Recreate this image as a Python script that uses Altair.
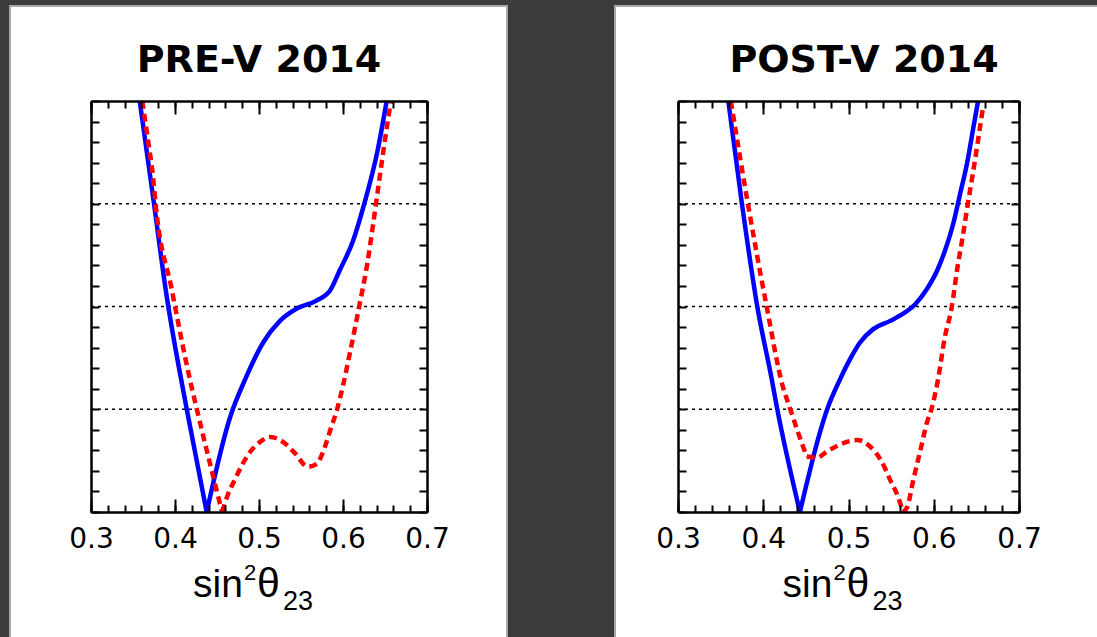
import altair as alt
import pandas as pd

# Delta chi^2 profiles versus sin^2(theta_23); blue = solid curve, red = dashed curve
pre_blue_x = [0.358, 0.375, 0.389, 0.414, 0.4377, 0.4655, 0.484, 0.505, 0.525, 0.545,
              0.569, 0.585, 0.596, 0.612, 0.626, 0.641, 0.652]
pre_blue_y = [4.0, 3.0, 2.16, 1.0, 0.0, 0.92, 1.30, 1.65, 1.86, 1.98,
              2.06, 2.16, 2.35, 2.64, 3.02, 3.51, 4.0]

pre_red_x = [0.361, 0.368, 0.374, 0.377, 0.396, 0.418, 0.426, 0.456, 0.463, 0.471,
             0.480, 0.489, 0.501, 0.513, 0.529, 0.543, 0.558, 0.569, 0.576, 0.585,
             0.593, 0.600, 0.608, 0.620, 0.629, 0.636, 0.642, 0.648, 0.657]
pre_red_y = [4.0, 3.61, 3.25, 2.99, 2.17, 1.28, 1.0, 0.0, 0.17, 0.31,
             0.46, 0.58, 0.68, 0.73, 0.68, 0.57, 0.44, 0.47, 0.58, 0.80,
             1.0, 1.23, 1.54, 2.03, 2.42, 2.81, 3.16, 3.51, 4.0]

post_blue_x = [0.359, 0.375, 0.393, 0.410, 0.416, 0.443, 0.449, 0.457, 0.466, 0.475,
               0.490, 0.502, 0.5135, 0.529, 0.549, 0.564, 0.578, 0.592, 0.604, 0.613,
               0.623, 0.631, 0.639, 0.646, 0.652]
post_blue_y = [4.0, 3.0, 2.0, 1.29, 1.02, 0.0, 0.21, 0.48, 0.76, 1.0,
               1.29, 1.49, 1.65, 1.78, 1.86, 1.93, 2.02, 2.17, 2.35, 2.54,
               2.81, 3.10, 3.39, 3.72, 4.0]

post_red_x = [0.362, 0.382, 0.404, 0.423, 0.431, 0.441, 0.451, 0.463, 0.475, 0.494,
              0.510, 0.525, 0.539, 0.549, 0.558, 0.564, 0.569, 0.576, 0.584, 0.592,
              0.598, 0.605, 0.613, 0.621, 0.628, 0.634, 0.640, 0.646, 0.652, 0.658]
post_red_y = [4.0, 3.0, 2.0, 1.22, 1.02, 0.77, 0.54, 0.53, 0.59, 0.67,
              0.70, 0.64, 0.49, 0.31, 0.15, 0.0, 0.05, 0.31, 0.59, 0.87,
              1.02, 1.29, 1.70, 1.99, 2.39, 2.68, 3.0, 3.30, 3.62, 3.95]

# indices of sharp corners (minima / kinks) where the smooth pieces meet
pre_blue_corners = [4]
pre_red_corners = [7]
post_blue_corners = [5]
post_red_corners = [6, 15]

titles = ["PRE-V 2014", "POST-V 2014"]
x_domain = [0.3, 0.7]
y_domain = [0, 4]
x_major = [0.3, 0.4, 0.5, 0.6, 0.7]
x_minor = [round(0.30 + 0.02 * i, 2) for i in range(21)]
y_minor = [round(0.2 * i, 1) for i in range(21)]
grid_levels = [1, 2, 3]

# page layout in pixels
CW, CH = 1097, 637
TOP, BOTTOM = 101, 512
PANELS = [
    # plot x-range, card x-range, heading centre
    dict(x0=91, x1=427, card=(9, 508), head=259),
    dict(x0=678, x1=1019, card=(614, CW + 3), head=864),
]
DARK = "#3b3b3b"
RIM = "#a8a8a8"

one = pd.DataFrame({"k": [0]})


def xs(p):
    return alt.Scale(domain=x_domain, range=[p["x0"], p["x1"]], nice=False, zero=False)


def ys():
    return alt.Scale(domain=y_domain, range=[BOTTOM, TOP], nice=False, zero=False)


AX = dict(title=None, grid=False, zindex=1, tickColor="black", tickWidth=2,
          domainColor="black", domainWidth=2.5)


def x_guide(p, orient, offset, values, size, domain):
    return alt.Chart(pd.DataFrame({"v": values})).mark_rule(opacity=0).encode(
        x=alt.X("v:Q", scale=xs(p), axis=alt.Axis(
            orient=orient, offset=offset, values=values, tickSize=size,
            labels=False, domain=domain, **AX)))


def y_guide(orient, offset, values, size):
    return alt.Chart(pd.DataFrame({"v": values})).mark_rule(opacity=0).encode(
        y=alt.Y("v:Q", scale=ys(), axis=alt.Axis(
            orient=orient, offset=offset, values=values, tickSize=size,
            labels=False, domain=True, **AX)))


def rect(x, x2, y, y2, color):
    return alt.Chart(one).mark_rect(color=color, opacity=1).encode(
        x=alt.value(x), x2=alt.value(x2), y=alt.value(y), y2=alt.value(y2))


def text(s, x, y, size, font, weight="normal", align="left"):
    return alt.Chart(one).mark_text(
        text=s, font=font, fontSize=size, fontWeight=weight, align=align,
        baseline="alphabetic", color="black").encode(
        x=alt.value(x), y=alt.value(y))


def curve(p, xv, yv, corners, color, dashed):
    # split at the corners so each smooth piece keeps a sharp tip
    cuts = [0] + corners + [len(xv) - 1]
    rows = []
    for seg, (a, b) in enumerate(zip(cuts[:-1], cuts[1:])):
        for i in range(a, b + 1):
            rows.append({"s": xv[i], "d": yv[i], "i": i, "seg": seg})
    df = pd.DataFrame(rows)
    kw = dict(color=color, strokeWidth=4.5, strokeJoin="round", interpolate="monotone")
    if dashed:
        kw.update(strokeDash=[8, 5], strokeCap="butt")
    return alt.Chart(df).mark_line(**kw).encode(
        x=alt.X("s:Q", scale=xs(p), axis=None),
        y=alt.Y("d:Q", scale=ys(), axis=None),
        detail="seg:N",
        order="i:Q")


def panel(p, title, blue, red):
    layers = []
    cl, cr = p["card"]
    # white card with a light grey rim
    layers.append(rect(cl, cr, 5, CH + 3, RIM))
    layers.append(rect(cl + 2, cr - 2, 7, CH + 3, "white"))
    # dotted reference levels
    layers.append(alt.Chart(pd.DataFrame({"g": grid_levels})).mark_rule(
        color="black", strokeWidth=1.6, strokeDash=[3, 4]).encode(
        y=alt.Y("g:Q", scale=ys(), axis=None),
        x=alt.X(datum=x_domain[0], scale=xs(p), axis=None),
        x2=alt.X2(datum=x_domain[1])))
    layers.append(curve(p, *blue, "#0000ff", False))
    layers.append(curve(p, *red, "#ff0000", True))
    # inward ticks on all four sides
    layers += [
        x_guide(p, "top", -BOTTOM, x_minor, 7, False),
        x_guide(p, "top", -BOTTOM, x_major, 13, False),
        x_guide(p, "bottom", -(CH - TOP), x_minor, 7, True),
        x_guide(p, "bottom", -(CH - TOP), x_major, 13, False),
        y_guide("right", -(CW - p["x0"]), y_minor, 8),
        y_guide("left", -p["x1"], y_minor, 8),
    ]
    # tick labels along the bottom edge
    layers.append(alt.Chart(pd.DataFrame({"v": x_major})).mark_rule(opacity=0).encode(
        x=alt.X("v:Q", scale=xs(p), axis=alt.Axis(
            orient="bottom", offset=-(CH - BOTTOM), values=x_major, format=".1f",
            labelFont="DejaVu Sans", labelFontSize=28, labelColor="black",
            labelPadding=13, labelFlush=False, labelOverlap=False,
            ticks=False, domain=True, **AX))))
    # panel heading
    layers.append(text(title, p["head"], 72, 38, "DejaVu Sans", "bold", "center"))
    # axis title: sin^2 theta_23
    c = (p["x0"] + p["x1"]) / 2 + 2
    layers += [
        text("sin", c - 68, 597, 39, "Liberation Sans"),
        text("2", c - 17, 580, 22, "Liberation Sans"),
        text("θ", c - 4, 597, 41, "Liberation Sans"),
        text("23", c + 22, 610, 27, "Liberation Sans"),
    ]
    return layers


layers = [rect(0, CW, 0, CH, DARK)]
layers += panel(PANELS[0], titles[0],
                (pre_blue_x, pre_blue_y, pre_blue_corners),
                (pre_red_x, pre_red_y, pre_red_corners))
layers += panel(PANELS[1], titles[1],
                (post_blue_x, post_blue_y, post_blue_corners),
                (post_red_x, post_red_y, post_red_corners))

chart = alt.layer(*layers).resolve_scale(x="independent", y="independent").resolve_axis(
    x="independent", y="independent").properties(
    width=CW, height=CH, padding=0, background=DARK,
    autosize=alt.AutoSizeParams(type="none")).configure_view(stroke=None)

chart.save("out.html", embed_options={"renderer": "svg", "actions": False})
